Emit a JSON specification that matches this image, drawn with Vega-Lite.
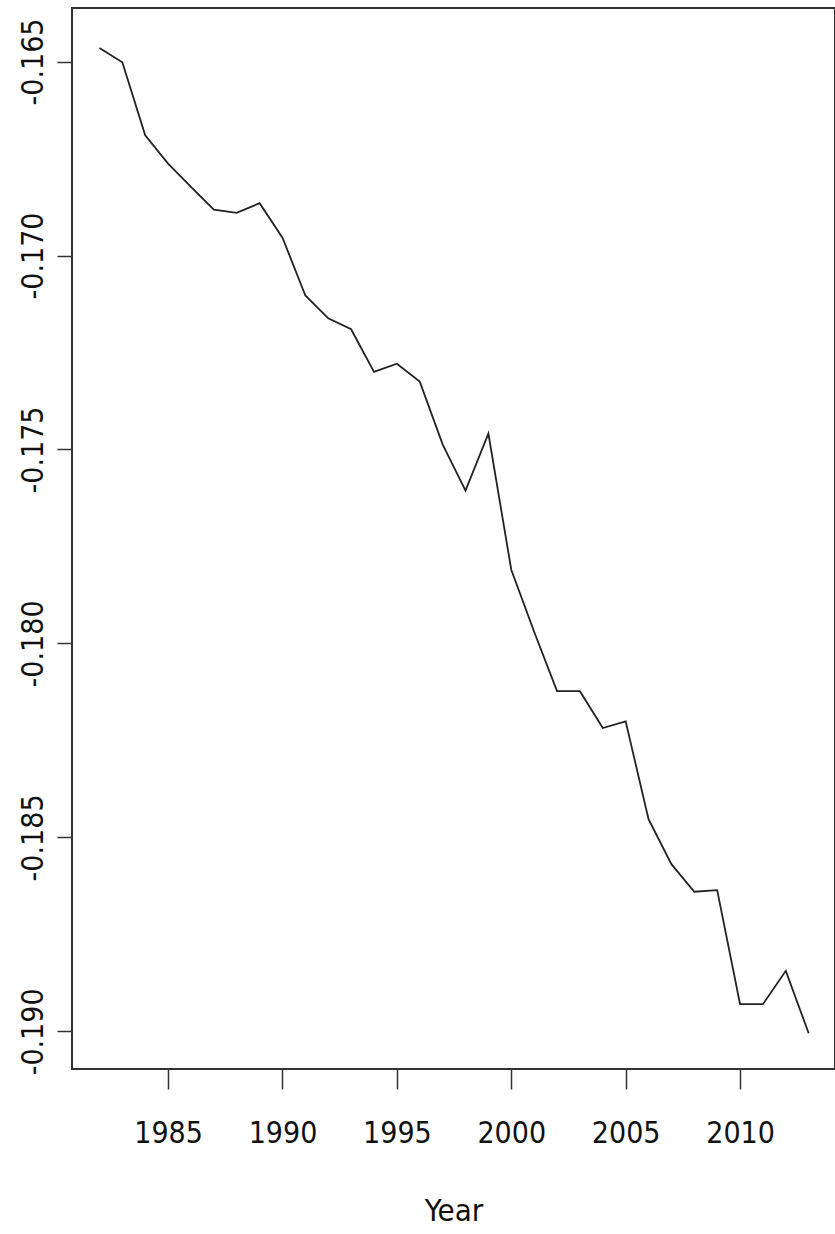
{
  "$schema": "https://vega.github.io/schema/vega-lite/v6.json",
  "width": 763,
  "height": 1061,
  "autosize": {"type": "none"},
  "padding": {"left": 72, "top": 8, "right": 0, "bottom": 165},
  "background": "white",
  "config": {
    "view": {"stroke": "#333", "strokeWidth": 2},
    "axis": {
      "grid": false,
      "domain": false,
      "labelFont": "Liberation Sans Narrow, DejaVu Sans Condensed, Liberation Sans, Arial",
      "titleFont": "Liberation Sans Narrow, DejaVu Sans Condensed, Liberation Sans, Arial",
      "labelFontSize": 30,
      "titleFontSize": 31,
      "titleFontWeight": "normal",
      "labelColor": "#111",
      "titleColor": "#111",
      "tickColor": "#333",
      "tickWidth": 1.5
    }
  },
  "data": {
    "values": [
      {"Year": 1982, "value": -0.16465},
      {"Year": 1983, "value": -0.16502},
      {"Year": 1984, "value": -0.16690},
      {"Year": 1985, "value": -0.16763},
      {"Year": 1986, "value": -0.16823},
      {"Year": 1987, "value": -0.16882},
      {"Year": 1988, "value": -0.16890},
      {"Year": 1989, "value": -0.16865},
      {"Year": 1990, "value": -0.16954},
      {"Year": 1991, "value": -0.17103},
      {"Year": 1992, "value": -0.17162},
      {"Year": 1993, "value": -0.17190},
      {"Year": 1994, "value": -0.17300},
      {"Year": 1995, "value": -0.17279},
      {"Year": 1996, "value": -0.17325},
      {"Year": 1997, "value": -0.17487},
      {"Year": 1998, "value": -0.17606},
      {"Year": 1999, "value": -0.17459},
      {"Year": 2000, "value": -0.17810},
      {"Year": 2001, "value": -0.17970},
      {"Year": 2002, "value": -0.18123},
      {"Year": 2003, "value": -0.18123},
      {"Year": 2004, "value": -0.18218},
      {"Year": 2005, "value": -0.18201},
      {"Year": 2006, "value": -0.18453},
      {"Year": 2007, "value": -0.18569},
      {"Year": 2008, "value": -0.18640},
      {"Year": 2009, "value": -0.18636},
      {"Year": 2010, "value": -0.18930},
      {"Year": 2011, "value": -0.18930},
      {"Year": 2012, "value": -0.18844},
      {"Year": 2013, "value": -0.19005}
    ]
  },
  "mark": {"type": "line", "color": "#222", "strokeWidth": 1.8},
  "encoding": {
    "x": {
      "field": "Year",
      "type": "quantitative",
      "scale": {"domain": [1980.8, 2014.15], "nice": false, "zero": false},
      "axis": {
        "values": [1985, 1990, 1995, 2000, 2005, 2010],
        "format": "d",
        "title": "Year",
        "tickSize": 20,
        "labelPadding": 29,
        "titlePadding": 48
      }
    },
    "y": {
      "field": "value",
      "type": "quantitative",
      "scale": {"domain": [-0.19097, -0.16362], "nice": false, "zero": false},
      "axis": {
        "values": [-0.165, -0.17, -0.175, -0.18, -0.185, -0.19],
        "labelExpr": "replace(format(datum.value, '.3f'), '\u2212', '-')",
        "title": null,
        "labelAngle": -90,
        "labelAlign": "center",
        "labelBaseline": "alphabetic",
        "tickSize": 15,
        "labelPadding": 15
      }
    }
  }
}
